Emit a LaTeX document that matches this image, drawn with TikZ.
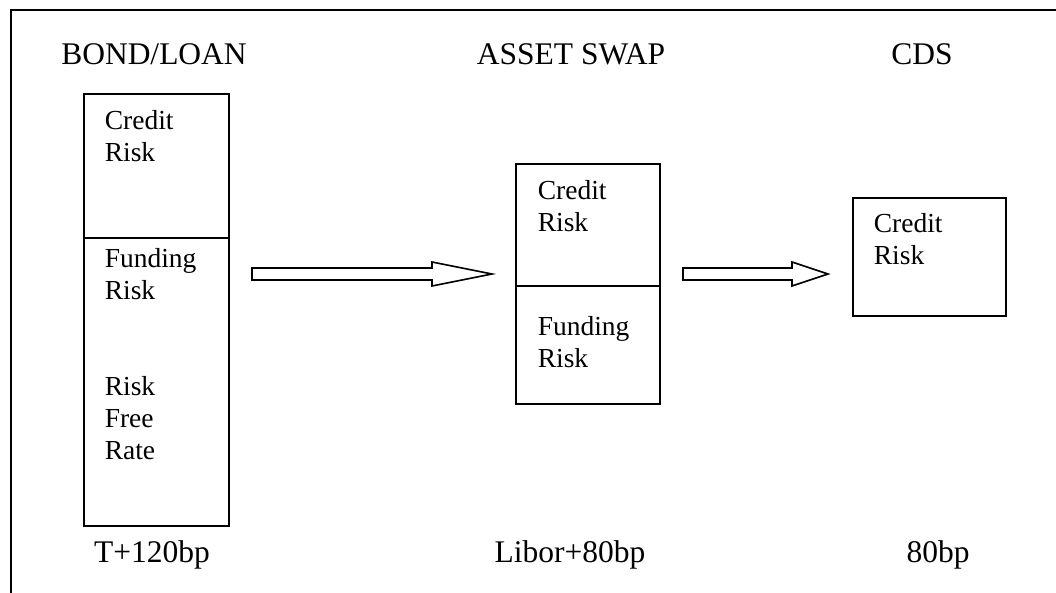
\documentclass[tikz,border=0pt]{standalone}
\usepackage{fontspec}
\setmainfont{Liberation Serif}
\usepackage{tikz}
\usetikzlibrary{positioning}

\begin{document}
\begin{tikzpicture}[x=1pt,y=-1pt,line width=1.6pt,
  title/.style={anchor=base,inner sep=0pt,font=\fontsize{31.5}{36}\selectfont},
  box/.style={draw,anchor=north west,inner sep=0pt},
  risk/.style={anchor=base west,inner sep=0pt,align=left,
    font=\fontsize{27.5}{32}\selectfont}]

\useasboundingbox (0,0) rectangle (1056,593);

% frame
\coordinate (f_bl) at (11,593);
\coordinate (f_tl) at (11,10);
\coordinate (f_tr) at (1056,10);
\draw (f_bl) -- (f_tl) -- (f_tr);

% headings
\node[title] (t_bond) at (154,65) {BOND/LOAN};
\node[title] (t_asw) at (571,65) {ASSET SWAP};
\node[title] (t_cds) at (922,65) {CDS};

% bond / loan (base = last line)
\node[box,minimum width=145pt,minimum height=432pt] (bond) at (83,93) {};
\draw (bond.west |- 0,238) -- (bond.east |- 0,238);
\node[risk] (bond_cr) at (104,162) {Credit\\Risk};
\node[risk] (bond_fr) at (104,299) {Funding\\Risk};
\node[risk] (bond_rf) at (104,459) {Risk\\Free\\Rate};

% asset swap
\node[box,minimum width=144pt,minimum height=240pt] (asw) at (515,163) {};
\draw (asw.west |- 0,286) -- (asw.east |- 0,286);
\node[risk] (asw_cr) at (537,232) {Credit\\Risk};
\node[risk] (asw_fr) at (537,367) {Funding\\Risk};

% cds
\node[box,minimum width=153pt,minimum height=118pt] (cds) at (852,197) {};
\node[risk] (cds_cr) at (873,265) {Credit\\Risk};

% spreads
\node[title] (s_bond) at (152,562) {T+120bp};
\node[title] (s_asw) at (570,562) {Libor+80bp};
\node[title] (s_cds) at (938,562) {80bp};

% block arrows
\coordinate (a1) at (252,274);
\coordinate (a2) at (683,274);
\draw (a1) ++(0,-6) -- ++(180,0) -- ++(0,-6) -- ++(60,12) -- ++(-60,12)
  -- ++(0,-6) -- ++(-180,0) -- cycle;
\draw (a2) ++(0,-6) -- ++(109,0) -- ++(0,-6) -- ++(36,12) -- ++(-36,12)
  -- ++(0,-6) -- ++(-109,0) -- cycle;

\end{tikzpicture}
\end{document}
